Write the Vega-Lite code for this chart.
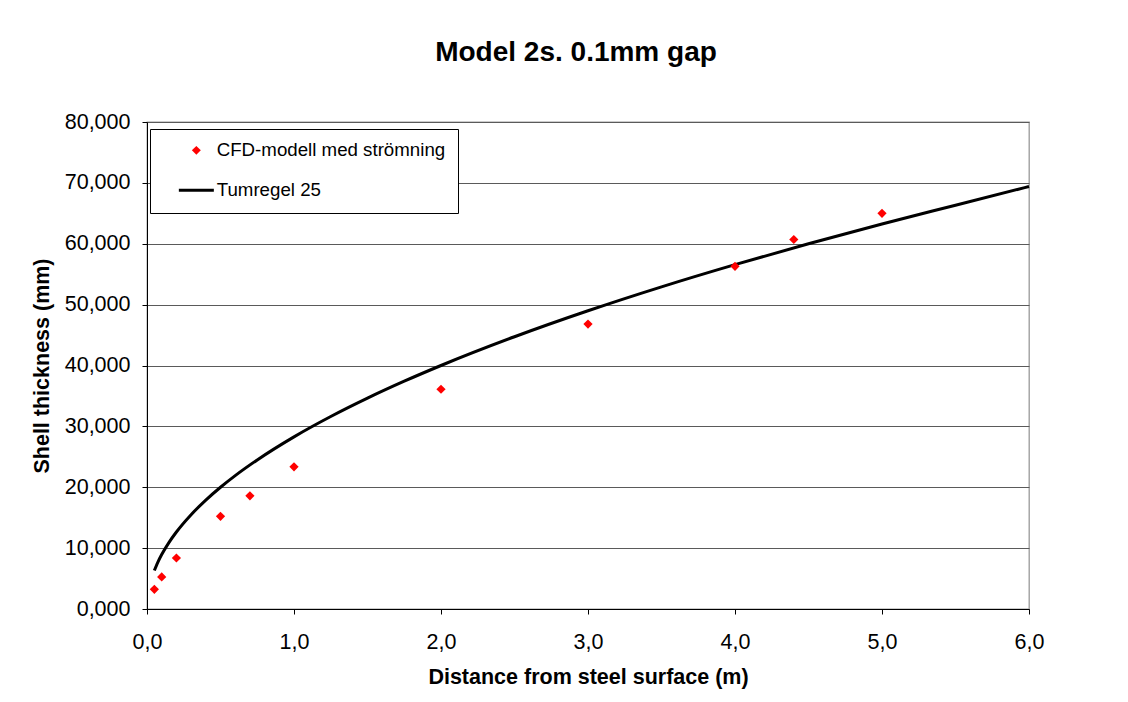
{
  "$schema": "https://vega.github.io/schema/vega-lite/v6.json",
  "autosize": {"type": "none"},
  "padding": {"left": 147, "top": 122, "right": 99, "bottom": 93},
  "width": 882,
  "height": 487,
  "background": "white",
  "title": {
    "text": "Model 2s. 0.1mm gap",
    "font": "Liberation Sans",
    "fontSize": 28,
    "fontWeight": "bold",
    "color": "black",
    "anchor": "middle",
    "dx": -12,
    "offset": 44
  },
  "datasets": {
    "cfd": [
      {"x": 0.05, "y": 3.24, "series": "CFD-modell med strömning"},
      {"x": 0.1, "y": 5.26, "series": "CFD-modell med strömning"},
      {"x": 0.2, "y": 8.38, "series": "CFD-modell med strömning"},
      {"x": 0.5, "y": 15.22, "series": "CFD-modell med strömning"},
      {"x": 0.7, "y": 18.6, "series": "CFD-modell med strömning"},
      {"x": 1.0, "y": 23.35, "series": "CFD-modell med strömning"},
      {"x": 2.0, "y": 36.1, "series": "CFD-modell med strömning"},
      {"x": 3.0, "y": 46.8, "series": "CFD-modell med strömning"},
      {"x": 4.0, "y": 56.3, "series": "CFD-modell med strömning"},
      {"x": 4.4, "y": 60.7, "series": "CFD-modell med strömning"},
      {"x": 5.0, "y": 65.0, "series": "CFD-modell med strömning"}
    ],
    "rule": [
      {"x": 0.05, "y": 6.32, "series": "Tumregel 25"},
      {"x": 0.075, "y": 7.75, "series": "Tumregel 25"},
      {"x": 0.1, "y": 8.94, "series": "Tumregel 25"},
      {"x": 0.15, "y": 10.95, "series": "Tumregel 25"},
      {"x": 0.2, "y": 12.65, "series": "Tumregel 25"},
      {"x": 0.3, "y": 15.49, "series": "Tumregel 25"},
      {"x": 0.4, "y": 17.89, "series": "Tumregel 25"},
      {"x": 0.5, "y": 20.0, "series": "Tumregel 25"},
      {"x": 0.6, "y": 21.91, "series": "Tumregel 25"},
      {"x": 0.75, "y": 24.49, "series": "Tumregel 25"},
      {"x": 1.0, "y": 28.28, "series": "Tumregel 25"},
      {"x": 1.25, "y": 31.62, "series": "Tumregel 25"},
      {"x": 1.5, "y": 34.64, "series": "Tumregel 25"},
      {"x": 1.75, "y": 37.42, "series": "Tumregel 25"},
      {"x": 2.0, "y": 40.0, "series": "Tumregel 25"},
      {"x": 2.5, "y": 44.72, "series": "Tumregel 25"},
      {"x": 3.0, "y": 48.99, "series": "Tumregel 25"},
      {"x": 3.5, "y": 52.92, "series": "Tumregel 25"},
      {"x": 4.0, "y": 56.57, "series": "Tumregel 25"},
      {"x": 4.5, "y": 60.0, "series": "Tumregel 25"},
      {"x": 5.0, "y": 63.25, "series": "Tumregel 25"},
      {"x": 5.5, "y": 66.33, "series": "Tumregel 25"},
      {"x": 6.0, "y": 69.4, "series": "Tumregel 25"}
    ]
  },
  "encoding": {
    "x": {
      "field": "x",
      "type": "quantitative",
      "scale": {"domain": [0, 6], "nice": false, "zero": false},
      "axis": {
        "title": "Distance from steel surface (m)",
        "values": [0, 1, 2, 3, 4, 5, 6],
        "labelExpr": "replace(format(datum.value, '.1f'), '.', ',')",
        "grid": false,
        "titlePadding": 14
      }
    },
    "y": {
      "field": "y",
      "type": "quantitative",
      "scale": {"domain": [0, 80], "nice": false},
      "axis": {
        "title": "Shell thickness (mm)",
        "values": [0, 10, 20, 30, 40, 50, 60, 70, 80],
        "labelExpr": "replace(format(datum.value, '.3f'), '.', ',')",
        "grid": true,
        "titlePadding": 11
      }
    },
    "color": {
      "field": "series",
      "type": "nominal",
      "scale": {"domain": ["CFD-modell med strömning", "Tumregel 25"], "range": ["#ff0000", "#000000"]},
      "legend": {
        "title": null,
        "orient": "none",
        "legendX": 3,
        "legendY": 7,
        "encode": {
          "legend": {
            "update": {
              "width": {"value": 298}
            }
          },
          "symbols": {
            "update": {
              "stroke": {"scale": "color", "field": "value"},
              "strokeWidth": {"signal": "datum.value === 'Tumregel 25' ? 3 : 0"},
              "size": {"signal": "datum.value === 'Tumregel 25' ? 1225 : 80"}
            }
          }
        }
      }
    }
  },
  "layer": [
    {
      "data": {"name": "rule"},
      "mark": {"type": "line", "strokeWidth": 3, "interpolate": "monotone", "clip": false}
    },
    {
      "data": {"name": "cfd"},
      "mark": {"type": "point", "filled": true, "opacity": 1, "size": 85},
      "encoding": {
        "shape": {
          "field": "series",
          "type": "nominal",
          "scale": {"domain": ["CFD-modell med strömning", "Tumregel 25"], "range": ["diamond", "stroke"]},
          "legend": {"title": null, "orient": "none", "legendX": 3, "legendY": 7}
        }
      }
    }
  ],
  "config": {
    "font": "Liberation Sans",
    "view": {"stroke": "#999999", "strokeWidth": 1.3},
    "axis": {
      "labelFont": "Liberation Sans",
      "labelFontSize": 21.5,
      "labelColor": "black",
      "titleFont": "Liberation Sans",
      "titleFontSize": 21.5,
      "titleFontWeight": "bold",
      "titleColor": "black",
      "domainColor": "black",
      "domainWidth": 1,
      "tickColor": "black",
      "tickSize": 5,
      "gridColor": "#5a5a5a",
      "gridWidth": 1,
      "gridOpacity": 1
    },
    "axisX": {"labelPadding": 17, "labelFlush": false},
    "axisY": {"labelPadding": 12},
    "legend": {
      "labelFont": "Liberation Sans",
      "labelFontSize": 18.7,
      "labelColor": "black",
      "strokeColor": "black",
      "fillColor": "white",
      "padding": 12,
      "rowPadding": 20,
      "symbolSize": 1225,
      "symbolOffset": 25,
      "labelOffset": 11,
      "labelLimit": 400
    }
  }
}
